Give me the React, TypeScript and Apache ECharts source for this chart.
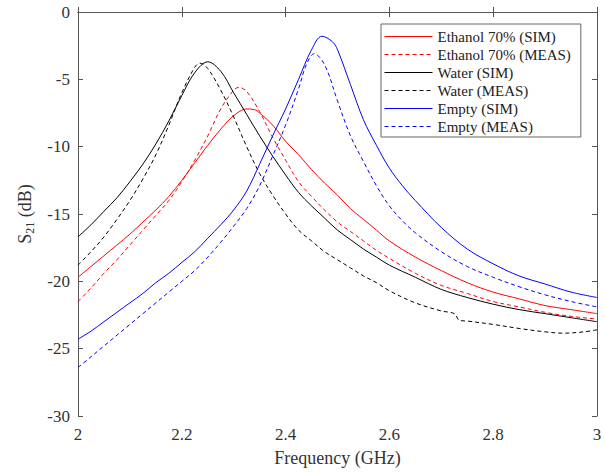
import React, { useEffect, useRef } from "react";
import * as echarts from "echarts";

const xTicks = [2, 2.2, 2.4, 2.6, 2.8, 3];
const yTicks = [0, -5, -10, -15, -20, -25, -30];

const freqEthSim = [2.0, 2.025, 2.05, 2.075, 2.1, 2.125, 2.15, 2.175, 2.2, 2.225, 2.25, 2.275, 2.3, 2.325, 2.34, 2.35, 2.375, 2.4, 2.425, 2.45, 2.475, 2.5, 2.525, 2.55, 2.575, 2.6, 2.65, 2.7, 2.75, 2.8, 2.85, 2.9, 2.95, 3.0];
const ethanolSim = [-19.7, -18.9, -18.1, -17.3, -16.5, -15.6, -14.7, -13.7, -12.5, -11.2, -9.9, -8.7, -7.7, -7.2, -7.25, -7.5, -8.4, -9.6, -10.6, -11.7, -12.7, -13.6, -14.6, -15.4, -16.2, -17.0, -18.2, -19.2, -20.1, -20.8, -21.3, -21.8, -22.1, -22.4];

const freqEthMeas = [2.0, 2.025, 2.05, 2.075, 2.1, 2.125, 2.15, 2.175, 2.2, 2.225, 2.25, 2.275, 2.3, 2.31, 2.325, 2.35, 2.375, 2.4, 2.425, 2.45, 2.475, 2.5, 2.525, 2.55, 2.575, 2.6, 2.65, 2.7, 2.75, 2.8, 2.85, 2.9, 2.95, 3.0];
const ethanolMeas = [-21.5, -20.5, -19.4, -18.4, -17.3, -16.2, -15.1, -14.0, -12.6, -11.0, -9.2, -7.2, -5.8, -5.6, -5.9, -7.4, -9.3, -11.0, -12.6, -13.7, -14.7, -15.6, -16.3, -17.0, -17.7, -18.3, -19.4, -20.3, -20.9, -21.5, -21.9, -22.3, -22.6, -22.8];

const freqWaterSim = [2.0, 2.025, 2.05, 2.075, 2.1, 2.125, 2.15, 2.175, 2.2, 2.225, 2.25, 2.275, 2.3, 2.325, 2.35, 2.375, 2.4, 2.425, 2.45, 2.475, 2.5, 2.525, 2.55, 2.575, 2.6, 2.65, 2.7, 2.75, 2.8, 2.85, 2.9, 2.95, 3.0];
const waterSim = [-16.7, -15.8, -14.8, -13.8, -12.6, -11.3, -9.8, -8.1, -6.2, -4.5, -3.7, -4.4, -6.0, -7.6, -9.2, -10.7, -12.1, -13.4, -14.4, -15.3, -16.2, -16.9, -17.6, -18.2, -18.8, -19.7, -20.6, -21.2, -21.7, -22.1, -22.4, -22.7, -23.0];

const freqWaterMeas = [2.0, 2.025, 2.05, 2.075, 2.1, 2.125, 2.15, 2.175, 2.2, 2.225, 2.235, 2.25, 2.275, 2.3, 2.325, 2.35, 2.375, 2.4, 2.425, 2.45, 2.475, 2.5, 2.525, 2.55, 2.575, 2.6, 2.65, 2.7, 2.725, 2.735, 2.75, 2.8, 2.85, 2.9, 2.935, 2.975, 3.0];
const waterMeas = [-18.8, -17.8, -16.7, -15.4, -14.0, -12.4, -10.6, -8.4, -6.0, -4.1, -3.8, -4.2, -5.8, -7.8, -10.0, -12.0, -13.6, -15.0, -16.2, -17.0, -17.8, -18.4, -19.0, -19.6, -20.1, -20.7, -21.6, -22.2, -22.4, -22.9, -22.95, -23.2, -23.5, -23.75, -23.85, -23.75, -23.6];

const freqEmptySim = [2.0, 2.025, 2.05, 2.075, 2.1, 2.125, 2.15, 2.175, 2.2, 2.225, 2.25, 2.275, 2.3, 2.325, 2.35, 2.375, 2.4, 2.425, 2.45, 2.47, 2.49, 2.5, 2.525, 2.55, 2.575, 2.6, 2.625, 2.65, 2.7, 2.75, 2.8, 2.85, 2.9, 2.95, 3.0];
const emptySim = [-24.3, -23.7, -23.0, -22.3, -21.6, -20.9, -20.1, -19.4, -18.6, -17.8, -16.8, -15.8, -14.7, -13.3, -11.3, -9.2, -7.2, -5.0, -2.8, -1.8, -2.2, -2.8, -5.4, -8.0, -9.9, -11.6, -12.9, -14.0, -16.0, -17.6, -18.7, -19.6, -20.2, -20.8, -21.2];

const freqEmptyMeas = [2.0, 2.025, 2.05, 2.075, 2.1, 2.125, 2.15, 2.175, 2.2, 2.225, 2.25, 2.275, 2.3, 2.325, 2.35, 2.375, 2.4, 2.425, 2.44, 2.455, 2.475, 2.5, 2.525, 2.55, 2.575, 2.6, 2.625, 2.65, 2.7, 2.75, 2.8, 2.85, 2.9, 2.95, 3.0];
const emptyMeas = [-26.4, -25.6, -24.8, -24.0, -23.2, -22.4, -21.6, -20.8, -20.0, -19.2, -18.2, -17.1, -15.9, -14.6, -12.9, -10.7, -8.4, -5.7, -3.9, -3.1, -3.9, -6.6, -9.2, -11.1, -12.9, -14.4, -15.5, -16.4, -17.8, -18.9, -19.7, -20.4, -21.0, -21.5, -21.9];

const seriesNames = [
  "Ethanol 70% (SIM)",
  "Ethanol 70% (MEAS)",
  "Water (SIM)",
  "Water (MEAS)",
  "Empty (SIM)",
  "Empty (MEAS)",
];

const FONT = "'Liberation Serif', 'Times New Roman', serif";

const pair = (xs: number[], ys: number[]) => xs.map((x, i) => [x, ys[i]]);

export default function App() {
  const ref = useRef<HTMLDivElement>(null);
  useEffect(() => {
    if (!ref.current) return;
    const chart = echarts.init(ref.current, undefined, { renderer: "svg" });
    const mk = (name: string, xs: number[], ys: number[], color: string, dashed: boolean) => ({
      name,
      type: "line",
      data: pair(xs, ys),
      showSymbol: false,
      symbol: "none",
      smooth: 0.35,
      lineStyle: { color, width: 1, type: dashed ? [4, 3] : "solid" },
      itemStyle: { color },
    });
    const axisCommon = {
      axisLine: { show: true, lineStyle: { color: "#555", width: 1 } },
      axisTick: { show: true, inside: true, length: 5, lineStyle: { color: "#555" } },
      splitLine: { show: false },
    };
    chart.setOption({
      animation: false,
      grid: { left: 78, top: 12, right: 8, bottom: 51, containLabel: false },
      legend: {
        orient: "vertical",
        left: 381,
        top: 24,
        backgroundColor: "#fff",
        borderColor: "#666",
        borderWidth: 1,
        padding: [5, 10, 3, 3],
        itemWidth: 48,
        itemHeight: 10,
        itemGap: 3,
        itemStyle: { opacity: 0 },
        lineStyle: { width: 1 },
        textStyle: { fontFamily: FONT, fontSize: 15, color: "#222", lineHeight: 15 },
        data: seriesNames,
      },
      xAxis: [
        {
          type: "value",
          min: 2,
          max: 3,
          interval: 0.2,
          name: "Frequency (GHz)",
          nameLocation: "middle",
          nameGap: 33,
          nameTextStyle: { fontFamily: FONT, fontSize: 18, color: "#333" },
          axisLabel: {
            fontFamily: FONT,
            fontSize: 17,
            color: "#333",
            margin: 10,
            formatter: (v: number) => (xTicks.some((t) => Math.abs(t - v) < 1e-6) ? String(+v.toFixed(1)) : ""),
          },
          ...axisCommon,
        },
        {
          type: "value",
          position: "top",
          min: 2,
          max: 3,
          interval: 0.2,
          axisLabel: { show: false },
          ...axisCommon,
        },
      ],
      yAxis: [
        {
          type: "value",
          min: -30,
          max: 0,
          interval: 5,
          name: "{s|S}{sub|21}{s| (dB)}",
          nameLocation: "middle",
          nameRotate: 90,
          nameGap: 34,
          nameTextStyle: {
            fontFamily: FONT,
            fontSize: 18,
            color: "#333",
            rich: {
              s: { fontFamily: FONT, fontSize: 18, color: "#333", lineHeight: 22, verticalAlign: "middle" },
              sub: { fontFamily: FONT, fontSize: 12, color: "#333", lineHeight: 22, verticalAlign: "bottom" },
            },
          },
          axisLabel: {
            fontFamily: FONT,
            fontSize: 17,
            color: "#333",
            margin: 8,
            formatter: (v: number) => (yTicks.includes(v) ? String(v) : ""),
          },
          ...axisCommon,
        },
        {
          type: "value",
          position: "right",
          min: -30,
          max: 0,
          interval: 5,
          axisLabel: { show: false },
          ...axisCommon,
        },
      ],
      series: [
        mk(seriesNames[0], freqEthSim, ethanolSim, "#ff0000", false),
        mk(seriesNames[1], freqEthMeas, ethanolMeas, "#ff0000", true),
        mk(seriesNames[2], freqWaterSim, waterSim, "#000000", false),
        mk(seriesNames[3], freqWaterMeas, waterMeas, "#000000", true),
        mk(seriesNames[4], freqEmptySim, emptySim, "#0000ff", false),
        mk(seriesNames[5], freqEmptyMeas, emptyMeas, "#0000ff", true),
      ],
    });
    return () => chart.dispose();
  }, []);
  return <div ref={ref} style={{ width: 605, height: 472, position: "absolute", left: 0, top: 0 }} />;
}
